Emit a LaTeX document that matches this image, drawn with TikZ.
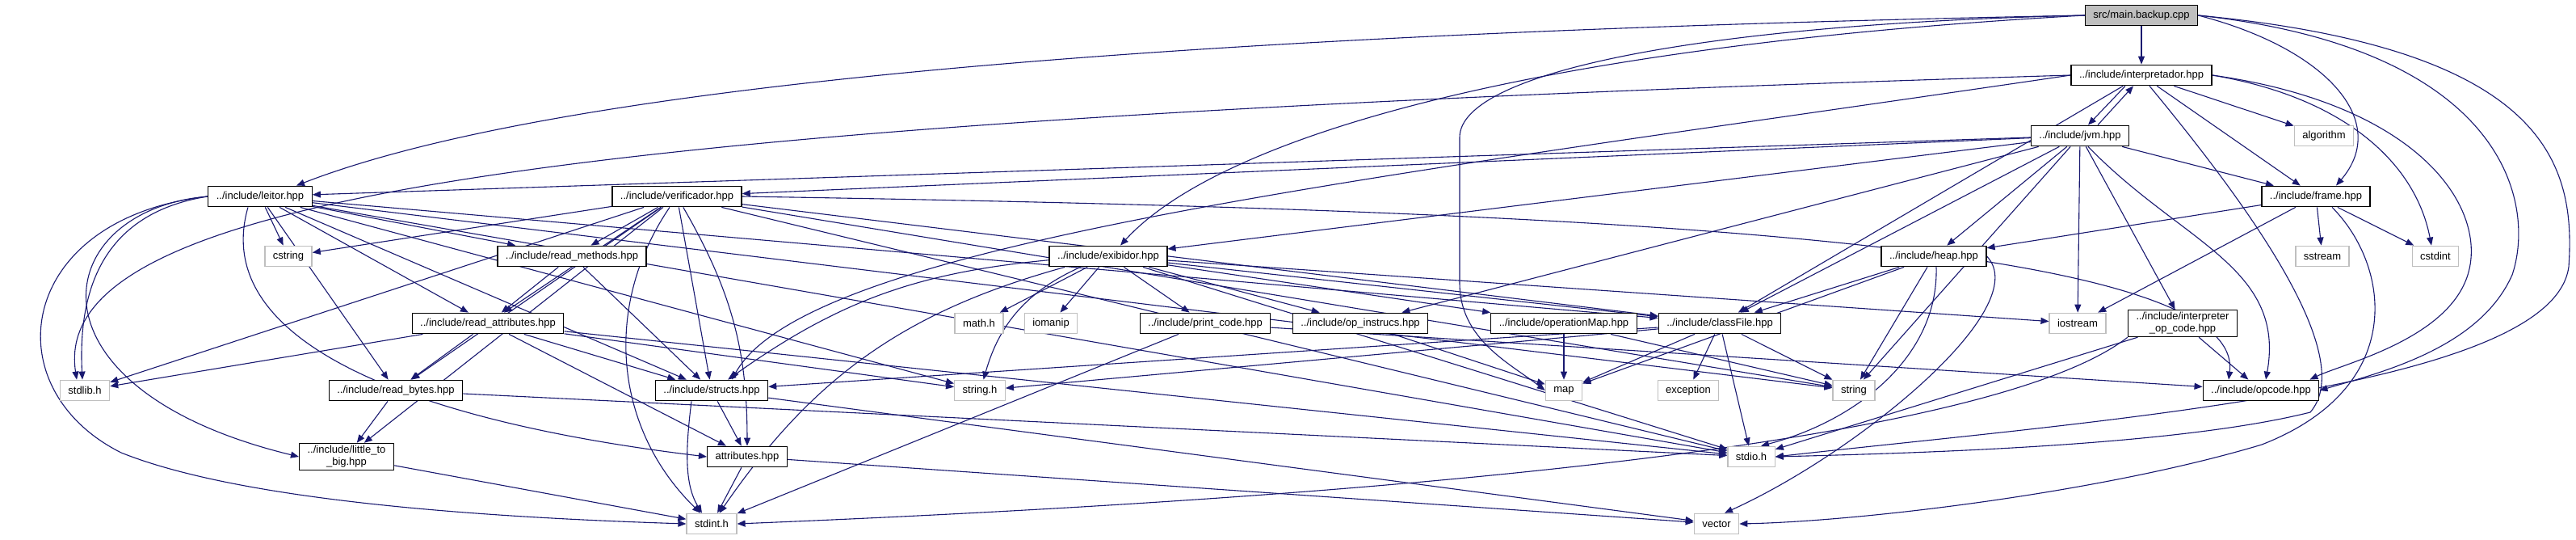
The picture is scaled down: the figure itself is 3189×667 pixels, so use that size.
\documentclass[tikz,border=0pt]{standalone}
\usepackage{fontspec}
\setmainfont{Liberation Sans}
\usepackage{xcolor}
\usepackage{tikz}
\usetikzlibrary{arrows.meta, backgrounds}

\definecolor{edgeblue}{HTML}{191970}
\definecolor{sysgray}{HTML}{BFBFBF}

\tikzset{
    file/.style={draw=black, line width=1.3pt, fill=white,
        font=\fontsize{13}{15}\selectfont, inner xsep=10pt, inner ysep=2pt,
        minimum height=25.5pt},
    mainfile/.style={file, fill=sysgray},
    sysfile/.style={file, draw=sysgray},
    dep/.style={draw=edgeblue, line width=1.1pt, ->},
}

\begin{document}
\begin{tikzpicture}[>={Triangle[length=10pt, width=8pt]}, x=1pt, y=-1pt]

\useasboundingbox (0,0) rectangle (3189,667);

% ============================================================
% files
% ============================================================

\node[mainfile] (main)      at (2651, 19) {src/main.backup.cpp};
\node[file]     (interp)    at (2651, 93) {../include/interpretador.hpp};
\node[file]     (jvm)       at (2575,168) {../include/jvm.hpp};
\node[sysfile]  (algorithm) at (2877,168) {algorithm};

\node[file]     (leitor)    at ( 322,243) {../include/leitor.hpp};
\node[file]     (verif)     at ( 838,243) {../include/verificador.hpp};
\node[file]     (frame)     at (2867,243) {../include/frame.hpp};

\node[sysfile]  (cstring)   at ( 357,317) {cstring};
\node[file]     (readmeth)  at ( 708,317) {../include/read\_methods.hpp};
\node[file]     (exib)      at (1372,317) {../include/exibidor.hpp};
\node[file]     (heap)      at (2394,317) {../include/heap.hpp};
\node[sysfile]  (sstream)   at (2875,317) {sstream};
\node[sysfile]  (cstdint)   at (3015,317) {cstdint};

\node[file]     (readattr)  at ( 604,400) {../include/read\_attributes.hpp};
\node[sysfile]  (mathh)     at (1212,400) {math.h};
\node[sysfile]  (iomanip)   at (1301,400) {iomanip};
\node[file]     (printcode) at (1492,400) {../include/print\_code.hpp};
\node[file]     (opinstr)   at (1684,400) {../include/op\_instrucs.hpp};
\node[file]     (opmap)     at (1936,400) {../include/operationMap.hpp};
\node[file]     (classfile) at (2129,400) {../include/classFile.hpp};
\node[sysfile]  (iostream)  at (2572,400) {iostream};
\node[file, align=center, inner ysep=3pt] (interpop) at (2702,400)
    {../include/interpreter\\\_op\_code.hpp};

\node[sysfile]  (stdlib)    at ( 105,483) {stdlib.h};
\node[file]     (readbytes) at ( 490,483) {../include/read\_bytes.hpp};
\node[file]     (structs)   at ( 881,483) {../include/structs.hpp};
\node[sysfile]  (stringh)   at (1213,483) {string.h};
\node[sysfile]  (map)       at (1936,483) {map};
\node[sysfile]  (exception) at (2090,483) {exception};
\node[sysfile]  (string)    at (2295,483) {string};
\node[file]     (opcode)    at (2799,483) {../include/opcode.hpp};

\node[file, align=center, inner ysep=3pt] (little) at (429,565)
    {../include/little\_to\\\_big.hpp};
\node[file]     (attrib)    at ( 925,565) {attributes.hpp};
\node[sysfile]  (stdio)     at (2168,565) {stdio.h};

\node[sysfile]  (stdint)    at ( 881,648) {stdint.h};
\node[sysfile]  (vector)    at (2125,648) {vector};

% ============================================================
% includes
% ============================================================

\begin{scope}[on background layer]
\fill[white] (0,0) rectangle (3189,667);

\foreach \a/\b in {main/interp, interp/algorithm, interp/frame, interp/classfile,
    jvm/leitor, jvm/verif, jvm/exib, jvm/opinstr, jvm/classfile,
    jvm/string, jvm/heap, jvm/iostream, jvm/interpop, jvm/frame,
    frame/heap, frame/sstream, frame/cstdint, frame/iostream,
    heap/classfile, heap/map, heap/string,
    leitor/cstring, leitor/readmeth, leitor/readattr, leitor/readbytes,
    leitor/structs, leitor/classfile, leitor/stringh, leitor/string, leitor/stdio,
    verif/cstring, verif/readmeth, verif/readattr, verif/readbytes, verif/little,
    verif/stdlib, verif/structs, verif/classfile, verif/string, verif/stdio,
    exib/mathh, exib/iomanip, exib/printcode, exib/opinstr, exib/opmap,
    exib/classfile, exib/iostream, exib/stdio,
    readmeth/readattr, readmeth/structs,
    readattr/stdlib, readattr/readbytes, readattr/structs, readattr/attrib,
    readattr/stringh, readattr/stdio,
    readbytes/little, readbytes/stdio, little/stdint,
    structs/attrib, structs/vector, attrib/stdint, attrib/vector,
    printcode/stdint, printcode/opcode, opinstr/map, opmap/map, opmap/string,
    classfile/structs, classfile/stringh, classfile/map, classfile/exception,
    classfile/string, classfile/stdio, interpop/opcode, interpop/stdio} {
    \draw[dep] (\a) -- (\b);
}

% structs -> stdint passes left of attributes.hpp
\draw[dep] ([xshift=-25pt]structs.south) .. controls (848,560) and (848,600) .. ([xshift=-12pt]stdint.north);

% interpretador <-> jvm
\draw[dep] ([xshift=-20pt]interp.south) -- ([xshift=10pt]jvm.north);
\draw[dep] ([xshift=22pt]jvm.north) -- ([xshift=-10pt]interp.south);

% long ones from main
\draw[dep] (main.west) .. controls (1500,40) and (700,100) .. ([xshift=45pt]leitor.north);
\draw[dep] (main.west) .. controls (1850,60) and (1500,180) .. ([xshift=15pt]exib.north);
\draw[dep] (main.west) .. controls (2100,30) and (1807,90) .. (1807,170)
    -- (1807,350) .. controls (1807,420) and (1870,450) .. (map.west);
\draw[dep] (main.east) .. controls (2880,60) and (2960,150) .. ([xshift=25pt]frame.north);
\draw[dep] (main.east) .. controls (3100,60) and (3140,250) .. (3110,340)
    .. controls (3070,430) and (2950,460) .. (opcode.east);
\draw[dep] (main.east) .. controls (3150,60) and (3189,200) .. (3180,330)
    .. controls (3160,480) and (2600,520) .. (stdio.east);

% long ones from interpretador
\draw[dep] (interp.west) .. controls (700,150) and (60,240) .. ([xshift=-10pt]stdlib.north);
\draw[dep] (interp.west) .. controls (1700,220) and (1000,300) .. ([xshift=25pt]structs.north);
\draw[dep] (interp.east) .. controls (2900,120) and (2990,200) .. ([xshift=-5pt]cstdint.north);
\draw[dep] (interp.east) .. controls (3000,130) and (3080,260) .. (3055,340)
    .. controls (3030,420) and (2900,450) .. ([xshift=-12pt]opcode.north east);
\draw[dep] ([xshift=10pt]interp.south) .. controls (2780,250) and (2920,440) .. (2860,510)
    .. controls (2700,550) and (2400,560) .. (stdio.east);

% the rest of the curved ones
\draw[dep] ([xshift=10pt]jvm.south) .. controls (2700,300) and (2830,330) .. ([xshift=6pt]opcode.north);
\draw[dep] ([xshift=20pt]frame.south) .. controls (2960,330) and (2980,480) .. (2800,550)
    .. controls (2600,610) and (2300,645) .. (vector.east);
\draw[dep] (heap.east) .. controls (2520,380) and (2300,560) .. ([xshift=10pt]vector.north);
\draw[dep] ([xshift=3pt]heap.south) .. controls (2400,440) and (2300,520) .. ([xshift=12pt]stdio.north);
\draw[dep] (verif.east) .. controls (2000,260) and (2780,300) .. ([xshift=-40pt]opcode.north);
\draw[dep] (leitor.west) .. controls (150,260) and (95,330) .. ([xshift=-3pt]stdlib.north);
\draw[dep] (leitor.west) .. controls (60,260) and (20,480) .. (little.west);
\draw[dep] (leitor.west) .. controls (20,270) and (-10,480) .. (150,560)
    .. controls (300,620) and (600,640) .. (stdint.west);
\draw[dep] ([xshift=-15pt]leitor.south) .. controls (260,420) and (500,520) .. (attrib.west);
\draw[dep] (verif) to[bend right=40] (stdint);
\draw[dep] (verif) to[bend left=15] (attrib);
\draw[dep] (exib) to[bend right=20] (stdint);
\draw[dep] (exib) to[bend right=25] (stringh);
\draw[dep] (exib) to[bend right=15] (structs);
\draw[dep] (interpop.south west) .. controls (2450,560) and (1600,620) .. (stdint.east);
\end{scope}

\end{tikzpicture}
\end{document}
